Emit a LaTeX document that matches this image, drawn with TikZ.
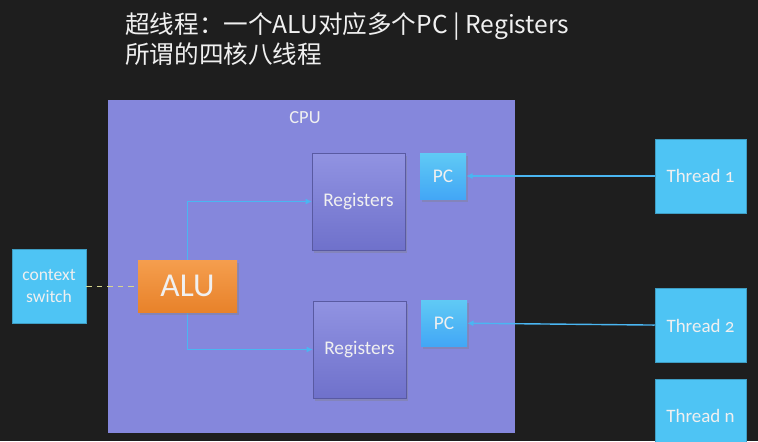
\documentclass[tikz,border=0pt]{standalone}
\usepackage{fontspec}
\setmainfont{Carlito}[Numbers=OldStyle]
\newfontfamily\cjk{Noto Sans CJK SC}
\usetikzlibrary{arrows.meta,shadows}

\definecolor{bgdark}{HTML}{1E1E1E}
\definecolor{cpufill}{HTML}{8587DC}
\definecolor{regtop}{HTML}{9193E2}
\definecolor{regbot}{HTML}{6F71CB}
\definecolor{skyblue}{HTML}{4EC4F4}
\definecolor{linkblue}{HTML}{4AB6F2}
\definecolor{alutop}{HTML}{F59E4E}
\definecolor{alubot}{HTML}{E8822A}
\definecolor{dashyel}{HTML}{D6D68E}

\tikzset{
  txt/.style={text=white!94!black},
  regbox/.style={txt, draw=regbot!80!black, line width=0.3pt, top color=regtop, bottom color=regbot,
    minimum width=1.86cm, minimum height=1.94cm, font=\fontsize{11}{13}\selectfont,
    drop shadow={opacity=0.35, shadow xshift=0.04cm, shadow yshift=-0.05cm}},
  pcbox/.style={txt, top color=skyblue!90!white, bottom color=skyblue!85!blue, minimum size=0.92cm,
    font=\fontsize{11}{13}\selectfont,
    drop shadow={opacity=0.35, shadow xshift=0.04cm, shadow yshift=-0.05cm}},
  thrbox/.style={txt, fill=skyblue, draw=skyblue!80!black, line width=0.3pt,
    minimum width=1.82cm, minimum height=1.48cm, font=\fontsize{10.8}{13}\selectfont},
  link/.style={linkblue, line width=0.8pt, -{Latex[length=3.5pt,width=3.5pt]}}
}

\begin{document}
\begin{tikzpicture}
  % 背景
  \useasboundingbox (0,0) rectangle (15.16,-8.82);
  \fill[bgdark] (0,0) rectangle (15.16,-8.82);

  % 标题
  \node[txt, anchor=west, font=\cjk\fontsize{14}{16}\selectfont] (title1) at (2.38,-0.52) {超线程：一个ALU对应多个PC | Registers};
  \node[txt, anchor=west, font=\cjk\fontsize{14}{16}\selectfont] (title2) at (2.38,-1.08) {所谓的四核八线程};

  % CPU
  \fill[cpufill] (2.16,-2.0) rectangle (10.3,-8.66);
  \node[txt, font=\fontsize{10.5}{12}\selectfont] (cpu) at (6.1,-2.36) {CPU};

  \node[regbox] (reg1) at (7.17,-4.03) {Registers};
  \node[regbox] (reg2) at (7.19,-6.99) {Registers};
  \node[pcbox] (pc1) at (8.86,-3.52) {PC};
  \node[pcbox] (pc2) at (8.88,-6.46) {PC};

  % ALU 与 context switch
  \draw[link] (3.75,-5.72) |- (reg1.west);
  \draw[link] (3.75,-5.72) |- (reg2.west);
  \node[txt, top color=alutop, bottom color=alubot, minimum width=1.98cm, minimum height=1.04cm,
    font=\fontsize{19}{22}\selectfont, drop shadow={opacity=0.4, shadow xshift=0.04cm, shadow yshift=-0.05cm}]
    (alu) at (3.75,-5.72) {ALU};
  \node[txt, fill=skyblue, draw=skyblue!80!black, line width=0.3pt, minimum size=1.48cm, align=center,
    font=\fontsize{10}{12}\selectfont] (ctx) at (0.98,-5.72) {context\\switch};
  \draw[dashyel, dashed, line width=0.5pt] (ctx) -- (alu);

  % 线程
  \node[thrbox] (t1) at (14.01,-3.52) {Thread 1};
  \node[thrbox] (t2) at (14.01,-6.51) {Thread 2};
  \node[thrbox] (tn) at (14.01,-8.32) {Thread n};
  \draw[link] (t1) -- (pc1);
  \draw[link] (t2) -- (pc2);
\end{tikzpicture}
\end{document}
